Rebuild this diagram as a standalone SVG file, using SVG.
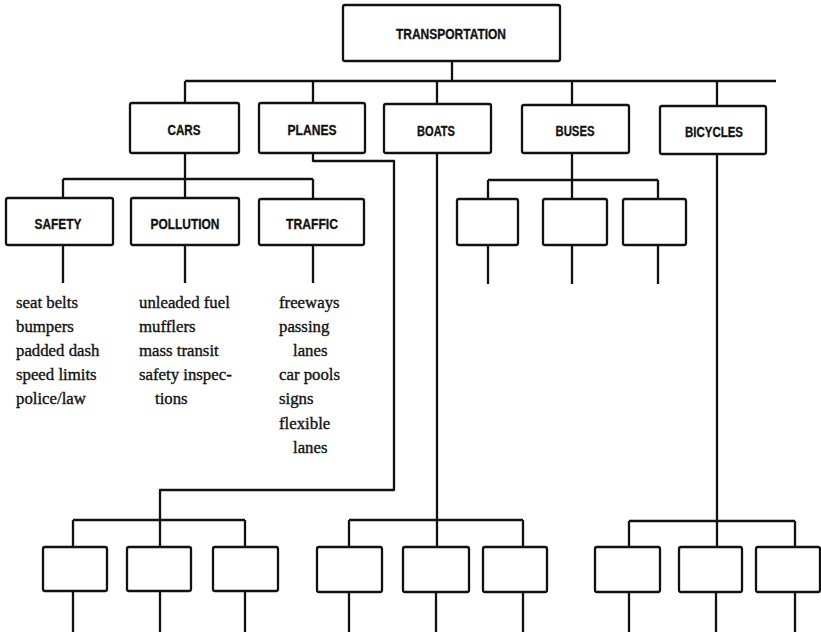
<svg xmlns="http://www.w3.org/2000/svg" width="821" height="634" viewBox="0 0 821 634">
  <style>
    .box { fill: #fff; stroke: #111; stroke-width: 2.3; }
    .lbl { font-family: "Liberation Sans", Arial, sans-serif; font-weight: bold; font-size: 14px; fill: #111; stroke: #111; stroke-width: 0.3; text-anchor: middle; }
    .wire { fill: none; stroke: #111; stroke-width: 2.3; stroke-linejoin: round; }
    .item { font-family: "Liberation Serif", "Times New Roman", serif; font-size: 16.8px; fill: #111; stroke: #111; stroke-width: 0.35; }
  </style>
  <rect width="821" height="634" fill="#fff"/>

  <!-- connectors -->
  <g id="connectors" class="wire">
    <!-- root to first level -->
    <path d="M452 61 V81 M185 81 H776 M185 81 V103 M313 81 V103 M437 81 V104 M572 81 V105 M717 81 V106"/>
    <!-- cars branch -->
    <path d="M185 153 V179 M63 179 H313 M63 179 V198 M185 179 V198 M313 179 V199"/>
    <path d="M63 245 V283 M185 245 V283 M313 245 V283"/>
    <!-- planes branch (routed down the page) -->
    <path d="M313 153 V161 H394 V490 H160 V547 M73 520 H245 M73 520 V547 M245 520 V547"/>
    <path d="M73 591 V632 M160 591 V632 M245 591 V632"/>
    <!-- boats branch -->
    <path d="M437 153 V547 M349 520 H523 M349 520 V547 M523 520 V547"/>
    <path d="M349 592 V632 M436 592 V632 M523 592 V632"/>
    <!-- buses branch -->
    <path d="M572 153 V180 M488 180 H658 M488 180 V199 M572 180 V199 M658 180 V199"/>
    <path d="M488 245 V284 M572 245 V284 M658 245 V284"/>
    <!-- bicycles branch -->
    <path d="M717 154 V547 M629 521 H795 M629 521 V547 M795 521 V547"/>
    <path d="M629 592 V632 M716 592 V632 M795 592 V632"/>
  </g>

  <!-- root -->
  <g id="transportation">
    <rect class="box" x="343" y="5" width="217" height="56" rx="2"/>
    <text class="lbl" x="451" y="39" textLength="110" lengthAdjust="spacingAndGlyphs">TRANSPORTATION</text>
  </g>

  <!-- first level -->
  <g id="cars">
    <rect class="box" x="130" y="103" width="109" height="50" rx="2"/>
    <text class="lbl" x="184" y="135" textLength="33" lengthAdjust="spacingAndGlyphs">CARS</text>
  </g>
  <g id="planes">
    <rect class="box" x="259" y="103" width="106" height="50" rx="2"/>
    <text class="lbl" x="312" y="135" textLength="49" lengthAdjust="spacingAndGlyphs">PLANES</text>
  </g>
  <g id="boats">
    <rect class="box" x="384" y="104" width="107" height="49" rx="2"/>
    <text class="lbl" x="436" y="136" textLength="38" lengthAdjust="spacingAndGlyphs">BOATS</text>
  </g>
  <g id="buses">
    <rect class="box" x="522" y="105" width="107" height="48" rx="2"/>
    <text class="lbl" x="575" y="136" textLength="39" lengthAdjust="spacingAndGlyphs">BUSES</text>
  </g>
  <g id="bicycles">
    <rect class="box" x="660" y="106" width="106" height="48" rx="2"/>
    <text class="lbl" x="714" y="137" textLength="58" lengthAdjust="spacingAndGlyphs">BICYCLES</text>
  </g>

  <!-- cars subtopics -->
  <g id="safety">
    <rect class="box" x="6" y="198" width="107" height="47" rx="2"/>
    <text class="lbl" x="58" y="229" textLength="47" lengthAdjust="spacingAndGlyphs">SAFETY</text>
  </g>
  <g id="pollution">
    <rect class="box" x="131" y="198" width="108" height="47" rx="2"/>
    <text class="lbl" x="185" y="229" textLength="69" lengthAdjust="spacingAndGlyphs">POLLUTION</text>
  </g>
  <g id="traffic">
    <rect class="box" x="259" y="199" width="105" height="46" rx="2"/>
    <text class="lbl" x="312" y="229" textLength="52" lengthAdjust="spacingAndGlyphs">TRAFFIC</text>
  </g>

  <!-- subtopic lists -->
  <g id="safety-list" class="item">
    <text x="16" y="308">seat belts</text>
    <text x="16" y="332">bumpers</text>
    <text x="16" y="356">padded dash</text>
    <text x="16" y="380">speed limits</text>
    <text x="16" y="404">police/law</text>
  </g>
  <g id="pollution-list" class="item">
    <text x="139" y="308">unleaded fuel</text>
    <text x="139" y="332">mufflers</text>
    <text x="139" y="356">mass transit</text>
    <text x="139" y="380">safety inspec-</text>
    <text x="155" y="404">tions</text>
  </g>
  <g id="traffic-list" class="item">
    <text x="279" y="308">freeways</text>
    <text x="279" y="332">passing</text>
    <text x="293" y="356">lanes</text>
    <text x="279" y="380">car pools</text>
    <text x="279" y="404">signs</text>
    <text x="279" y="429">flexible</text>
    <text x="293" y="453">lanes</text>
  </g>

  <!-- buses subtopics (blank) -->
  <g id="buses-1"><rect class="box" x="457" y="199" width="61" height="46" rx="2"/></g>
  <g id="buses-2"><rect class="box" x="543" y="199" width="64" height="46" rx="2"/></g>
  <g id="buses-3"><rect class="box" x="623" y="199" width="63" height="46" rx="2"/></g>

  <!-- planes subtopics (blank) -->
  <g id="planes-1"><rect class="box" x="43" y="547" width="64" height="44" rx="2"/></g>
  <g id="planes-2"><rect class="box" x="127" y="547" width="64" height="44" rx="2"/></g>
  <g id="planes-3"><rect class="box" x="213" y="547" width="65" height="44" rx="2"/></g>

  <!-- boats subtopics (blank) -->
  <g id="boats-1"><rect class="box" x="317" y="547" width="65" height="45" rx="2"/></g>
  <g id="boats-2"><rect class="box" x="403" y="547" width="66" height="45" rx="2"/></g>
  <g id="boats-3"><rect class="box" x="483" y="547" width="64" height="45" rx="2"/></g>

  <!-- bicycles subtopics (blank) -->
  <g id="bicycles-1"><rect class="box" x="595" y="547" width="65" height="45" rx="2"/></g>
  <g id="bicycles-2"><rect class="box" x="679" y="547" width="63" height="45" rx="2"/></g>
  <g id="bicycles-3"><rect class="box" x="756" y="547" width="64" height="45" rx="2"/></g>
</svg>
